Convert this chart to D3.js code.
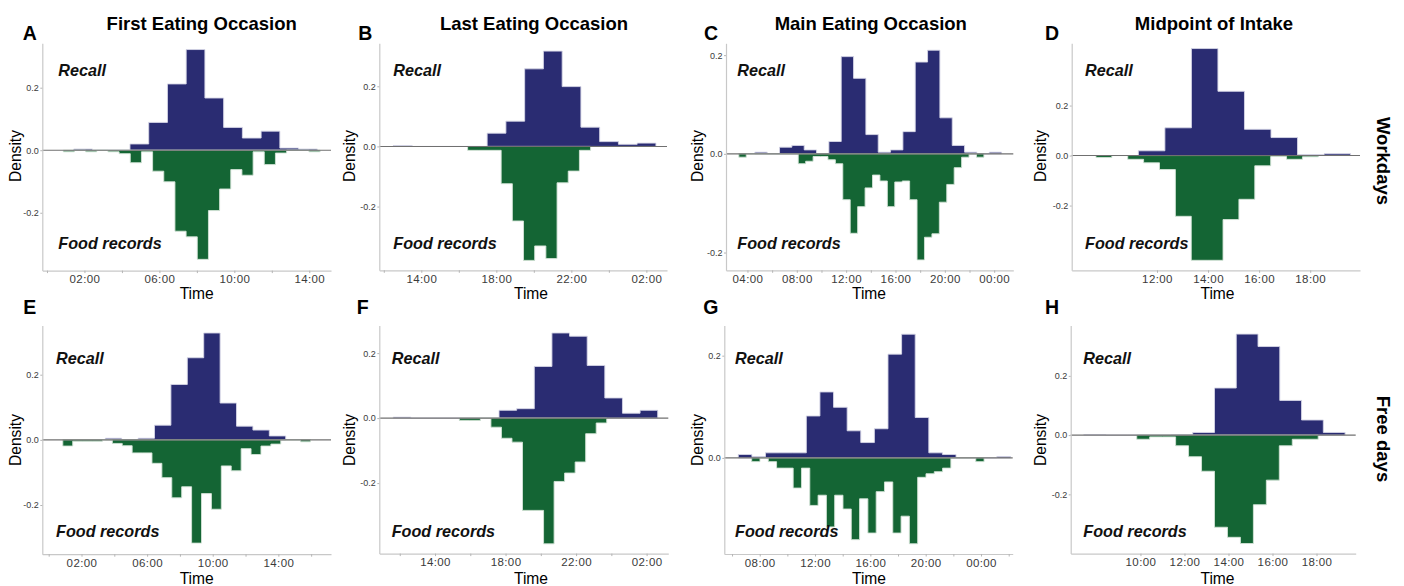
<!DOCTYPE html>
<html><head><meta charset="utf-8">
<script src="https://cdn.jsdelivr.net/npm/d3@7"></script>
<style>
body{margin:0;background:#fff}
svg{display:block}
text{font-family:"Liberation Sans",Arial,Helvetica,sans-serif}
</style>
</head><body>
<svg id="chart" width="1404" height="586"></svg>
<script>
// ---------- DATA ----------
const panelIds = ["A","B","C","D","E","F","G","H"];
const columnTitles = ["First Eating Occasion","Last Eating Occasion","Main Eating Occasion","Midpoint of Intake"];
const rowLabels = ["Workdays","Free days"];
const seriesNames = ["Recall","Food records"];

// histogram bin starts / widths (hours, clock time; >24 = after midnight)
const recallStart = [1.43, 12.51, 4.6, 11.27, 3.45, 11.63, 6.45, 7.43];
const recallWidth = [1, 1, 1, 1.039, 1, 1, 0.984, 0.989];
const foodStart   = [0.87, 16.47, 3.3, 9.61, 0.86, 15.38, 7.42, 9.83];
const foodWidth   = [0.596, 0.596, 0.602, 0.622, 0.604, 0.597, 0.6, 0.589];

// densities (Recall upward, Food records downward)
const recallA = [0.004,0,0,0.020,0.089,0.212,0.322,0.167,0.073,0.039,0.061,0.007,0.004];
const foodA   = [0.005,0,0.005,0,0.005,0.011,0.040,0.005,0.067,0.101,0.259,0.277,0.349,0.193,0.124,0.062,0.080,0.005,0.046,0.009,0,0,0.005];
const recallB = [0.003,0,0,0,0,0.044,0.084,0.258,0.317,0.199,0.064,0.016,0.007,0.011];
const foodB   = [0.013,0.013,0.013,0.124,0.248,0.379,0.331,0.373,0.121,0.082,0.013];
const recallC = [0.0034,0,0.0135,0.017,0.008,0,0.025,0.197,0.153,0.039,0.0034,0.008,0.045,0.186,0.210,0.073,0.017,0.0034,0,0.0034];
const foodC   = [0.0068,0,0,0,0,0,0,0,0.020,0.015,0.0054,0.0054,0.012,0.020,0.093,0.161,0.107,0.069,0.043,0.055,0.107,0.057,0.055,0.093,0.215,0.169,0.162,0.098,0.062,0.028,0.0068,0,0.0068];
const recallD = [0.019,0.111,0.428,0.257,0.105,0.072,0.003,0.007];
const foodD   = [0.008,0,0.015,0.029,0.056,0.243,0.419,0.419,0.256,0.175,0.041,0.004,0.015,0.005];
const recallE = [0.005,0,0.005,0.045,0.170,0.252,0.328,0.113,0.042,0.030,0.012];
const foodE   = [0.019,0.004,0.004,0.004,0,0.011,0.018,0.040,0.040,0.072,0.116,0.178,0.144,0.317,0.165,0.213,0.080,0.095,0.027,0.045,0.019,0.013,0,0,0.006];
const recallF = [0.003,0,0,0,0,0,0.024,0.029,0.159,0.262,0.252,0.162,0.062,0.015,0.024];
const foodF   = [0.007,0.007,0,0.028,0.062,0.074,0.284,0.284,0.387,0.195,0.169,0.135,0.048,0.015];
const recallG = [0.0066,0.0026,0.0099,0.0099,0.0099,0.082,0.129,0.099,0.053,0.030,0.057,0.203,0.242,0.079,0.0099,0.0066,0,0,0,0.0026];
const foodG   = [0.0073,0,0.0073,0.020,0.020,0.059,0.020,0.093,0.073,0.135,0.073,0.100,0.160,0.080,0.147,0.066,0.047,0.147,0.114,0.168,0.038,0.031,0.027,0.020,0,0,0,0.0073];
const recallH = [0.002,0,0,0,0.002,0.009,0.159,0.341,0.299,0.117,0.051,0.009];
const foodH   = [0.014,0.006,0.006,0.036,0.073,0.122,0.311,0.345,0.366,0.235,0.152,0.036,0.014,0.014];

const recallSeries = [recallA,recallB,recallC,recallD,recallE,recallF,recallG,recallH];
const foodSeries   = [foodA,foodB,foodC,foodD,foodE,foodF,foodG,foodH];

// axis domains and ticks
const xDomains = [[-0.25,15.16],[11.76,27.1],[2.26,25.55],[8.66,19.95],[-0.39,17.21],[10.84,27.23],[5.44,26.29],[6.83,19.78]];
const yDomains = [[-0.385,0.342],[-0.412,0.343],[-0.236,0.224],[-0.459,0.449],[-0.351,0.351],[-0.417,0.285],[-0.188,0.259],[-0.400,0.370]];
const xTickHours = [
  [0,2,4,6,8,10,12,14],[12,14,16,18,20,22,24,26],[4,6,8,10,12,14,16,18,20,22,24],[12,14,16,18],
  [0,2,4,6,8,10,12,14,16],[12,14,16,18,20,22,24,26],[6,8,10,12,14,16,18,20,22,24,26],[10,12,14,16,18]
];
const xLabelHours = [
  [2,6,10,14],[14,18,22,26],[4,8,12,16,20,24],[12,14,16,18],
  [2,6,10,14],[14,18,22,26],[8,12,16,20,24],[10,12,14,16,18]
];
const yTickValues = [-0.2,0,0.2];

// ---------- LAYOUT ----------
const plotRects = [
  {l:42.3,r:331,t:43.3,b:270.6},{l:379.3,r:667,t:43.3,b:270.3},{l:726,r:1013.3,t:43.3,b:270.3},{l:1071.7,r:1360,t:43.3,b:270.3},
  {l:42.3,r:331,t:325.5,b:554.2},{l:379.3,r:668.3,t:325.5,b:553.6},{l:724.3,r:1012.7,t:325.5,b:554},{l:1070.7,r:1355.7,t:325.5,b:553.6}
];
const colTitleX = [201.7,534,870.8,1214];
const letterX = [22.7,358.3,704,1045, 23.3,356.7,703.3,1045];
const seriesLabelX = [58.3,393.3,737.3,1085, 56,391.7,735,1083.3];
const densityX = [15,349,697,1040];
const timeX = [196.7,531,869,1217.5];
const rowInfo = [
  {letterY:40, recallY:76, foodY:249.3, densityY:156, timeY:299, sideY:161},
  {letterY:313.5, recallY:363.5, foodY:536.7, densityY:440, timeY:584.2, sideY:439}
];

const navy = "#2a2c72", green = "#146534";
const svg = d3.select("#chart");
const fmtHour = h => String(((h % 24) + 24) % 24).padStart(2,"0") + ":00";

function stepPoints(start, w, vals, sign){
  const pts = [[start,0]];
  vals.forEach((v,k)=>{ pts.push([start+k*w, sign*v]); pts.push([start+(k+1)*w, sign*v]); });
  pts.push([start+vals.length*w, 0]);
  return pts;
}

panelIds.forEach((id,i)=>{
  const R = plotRects[i];
  const row = Math.floor(i/4), col = i%4;
  const ri = rowInfo[row];
  const x = d3.scaleLinear().domain(xDomains[i]).range([R.l,R.r]);
  const y = d3.scaleLinear().domain(yDomains[i]).range([R.b,R.t]);
  const g = svg.append("g");
  const line = d3.line().x(d=>x(d[0])).y(d=>y(d[1]));

  g.append("path").attr("d", line(stepPoints(recallStart[i], recallWidth[i], recallSeries[i], 1))+"Z")
    .attr("fill", navy).attr("stroke","#d6d6e6").attr("stroke-width",0.9).attr("stroke-linejoin","miter");
  g.append("path").attr("d", line(stepPoints(foodStart[i], foodWidth[i], foodSeries[i], -1))+"Z")
    .attr("fill", green).attr("stroke","#d3e3d6").attr("stroke-width",0.9).attr("stroke-linejoin","miter");

  // zero line
  g.append("line").attr("x1",x(xDomains[i][0])).attr("x2",x(xDomains[i][1]))
    .attr("y1",y(0)).attr("y2",y(0)).attr("stroke","#707070").attr("stroke-width",1.1);

  // x axis
  const xa = g.append("g").attr("transform",`translate(0,${R.b})`)
    .call(d3.axisBottom(x).tickValues(xTickHours[i])
      .tickFormat(h => xLabelHours[i].includes(h) ? fmtHour(h) : "")
      .tickSize(2.5).tickSizeOuter(0).tickPadding(2));
  xa.select(".domain").attr("stroke","#c8c8c8").attr("stroke-width",1.2);
  xa.selectAll(".tick line").attr("stroke","#b5b5b5");
  xa.selectAll(".tick text").attr("fill","#3a3a3a").style("font-size","11.5px").style("letter-spacing","0.4px");

  // y axis (only ticks inside the domain)
  const yd = yDomains[i];
  const ya = g.append("g").attr("transform",`translate(${R.l},0)`)
    .call(d3.axisLeft(y).tickValues(yTickValues.filter(v => v >= yd[0] && v <= yd[1])).tickFormat(v=>v.toFixed(1))
      .tickSize(2).tickSizeOuter(0).tickPadding(1.5));
  ya.select(".domain").attr("stroke","#c8c8c8").attr("stroke-width",1.2);
  ya.selectAll(".tick line").attr("stroke","#b5b5b5");
  ya.selectAll(".tick text").attr("fill","#3a3a3a").style("font-size","9px");

  // series labels
  g.append("text").attr("x",seriesLabelX[i]).attr("y",ri.recallY).text(seriesNames[0])
    .style("font-size","16.2px").style("font-weight","bold").style("font-style","italic").attr("fill","#111");
  g.append("text").attr("x",seriesLabelX[i]).attr("y",ri.foodY).text(seriesNames[1])
    .style("font-size","16.2px").style("font-weight","bold").style("font-style","italic").attr("fill","#111");

  // panel letter
  g.append("text").attr("x",letterX[i]).attr("y",ri.letterY).text(id)
    .style("font-size","19.5px").style("font-weight","bold").attr("fill","#000");

  // axis titles
  g.append("text").attr("transform",`translate(${densityX[col]},${ri.densityY}) rotate(-90)`)
    .attr("text-anchor","middle").attr("dy","0.36em").text("Density")
    .style("font-size","15.6px").attr("fill","#000");
  g.append("text").attr("x",timeX[col]).attr("y",ri.timeY).attr("text-anchor","middle").text("Time")
    .style("font-size","15.6px").attr("fill","#000");
});

// column titles
columnTitles.forEach((t,c)=>{
  svg.append("text").attr("x",colTitleX[c]).attr("y",30).attr("text-anchor","middle").text(t)
    .style("font-size","18.5px").style("font-weight","bold").attr("fill","#000");
});
// row strip labels
rowLabels.forEach((t,r)=>{
  svg.append("text").attr("transform",`translate(1384,${rowInfo[r].sideY}) rotate(90)`)
    .attr("text-anchor","middle").attr("dy","0.36em").text(t)
    .style("font-size","18.5px").style("font-weight","bold").attr("fill","#000");
});
</script>
</body></html>
